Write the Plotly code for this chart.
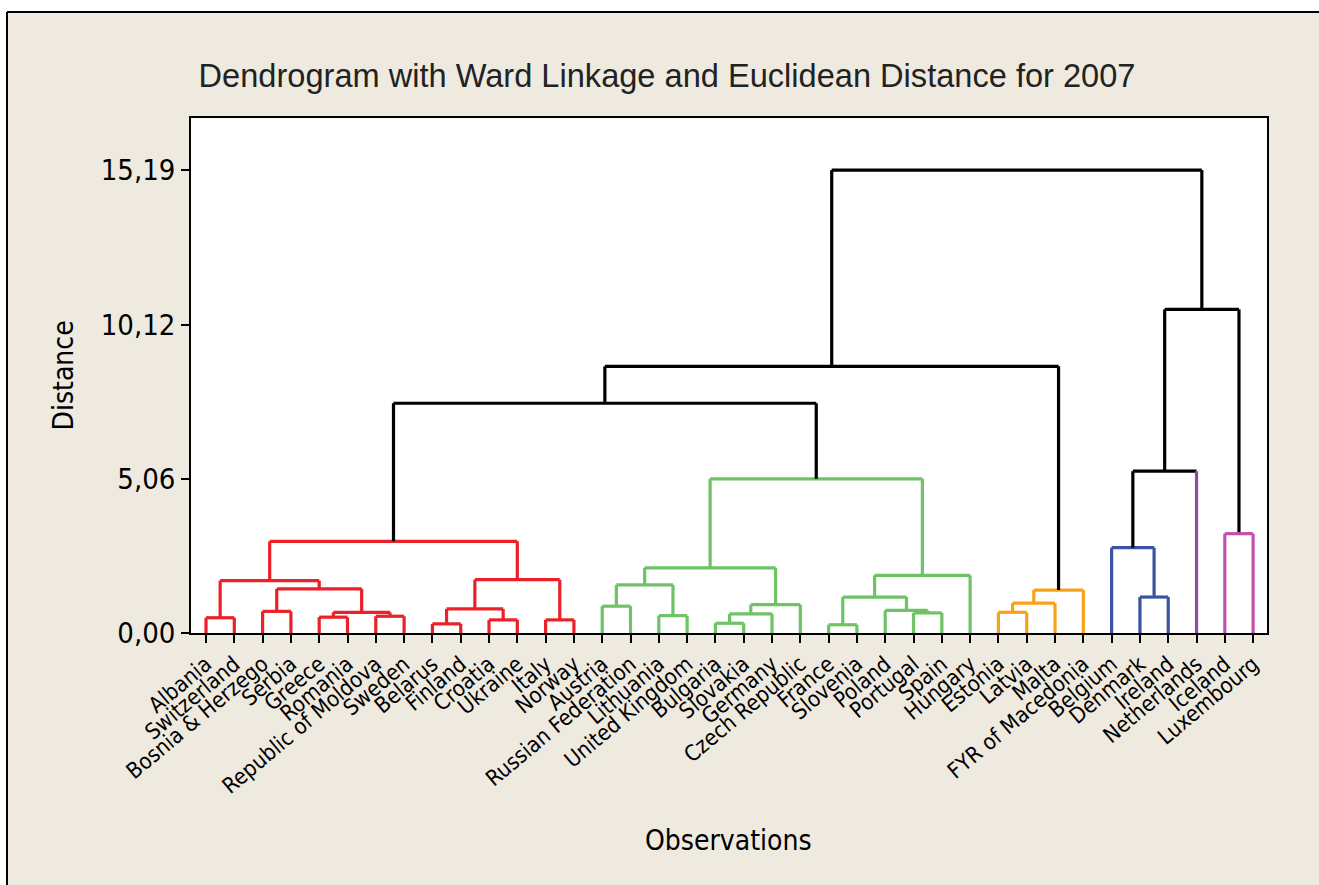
import plotly.graph_objects as go

# ---------------- data ----------------
leaves = ["Albania", "Switzerland", "Bosnia & Herzego", "Serbia", "Greece", "Romania",
          "Republic of Moldova", "Sweden", "Belarus", "Finland", "Croatia", "Ukraine",
          "Italy", "Norway", "Austria", "Russian Federation", "Lithuania", "United Kingdom",
          "Bulgaria", "Slovakia", "Germany", "Czech Republic", "France", "Slovenia",
          "Poland", "Portugal", "Spain", "Hungary", "Estonia", "Latvia", "Malta",
          "FYR of Macedonia", "Belgium", "Denmark", "Ireland", "Netherlands", "Iceland",
          "Luxembourg"]

# cluster membership of each leaf (6 final clusters)
leaf_cluster = [0] * 14 + [1] * 14 + [2] * 4 + [3] * 3 + [4] + [5] * 2

# linkage: node ids 0..37 are leaves, merge k creates node 38+k
merge_left = [0, 2, 4, 6, 40, 39, 38, 8, 10, 45, 12, 47, 44,
              14, 16, 51, 18, 54, 55, 53, 22, 25, 24, 58, 61, 57,
              28, 64, 65,
              33, 32, 68, 36, 69,
              50, 72, 73]
merge_right = [1, 3, 5, 7, 41, 42, 43, 9, 11, 46, 13, 48, 49,
               15, 17, 52, 19, 20, 21, 56, 23, 26, 59, 60, 27, 62,
               29, 30, 31,
               34, 67, 35, 37, 70,
               63, 66, 71]
merge_height = [0.50, 0.71, 0.52, 0.55, 0.68, 1.45, 1.72, 0.30, 0.43, 0.79, 0.43, 1.75, 3.01,
                0.88, 0.57, 1.58, 0.32, 0.63, 0.93, 2.14, 0.27, 0.66, 0.74, 1.18, 1.89, 5.06,
                0.68, 0.98, 1.41,
                1.18, 2.80, 5.31, 3.26, 10.62,
                7.54, 8.75, 15.19]

y_tick_values = [0.00, 5.06, 10.12, 15.19]
y_tick_labels = ["0,00", "5,06", "10,12", "15,19"]

# ---------------- style ----------------
cluster_colors = ["#EC2028", "#6DC366", "#F8A21C", "#3A53A4", "#8C4CA2", "#C151A9"]
link_black = "#000000"
LW = 3.2
FONT = "DejaVu Sans Condensed, DejaVu Sans, sans-serif"

W, H = 1319, 885
ML, MR, MT, MB = 191, 52, 118, 252

# ---------------- build dendrogram segments ----------------
n = len(leaves)
node_x = list(range(n))
node_h = [0.0] * n
node_cl = list(leaf_cluster)
segs = {}


def add(color, xs, ys):
    d = segs.setdefault(color, ([], []))
    d[0].extend(xs + [None])
    d[1].extend(ys + [None])


for a, b, h in zip(merge_left, merge_right, merge_height):
    xa, xb = node_x[a], node_x[b]
    cl = node_cl[a] if node_cl[a] == node_cl[b] else -1
    mcol = cluster_colors[cl] if cl >= 0 else link_black
    ca = cluster_colors[node_cl[a]] if a < n else mcol
    cb = cluster_colors[node_cl[b]] if b < n else mcol
    add(ca, [xa, xa], [node_h[a], h])
    add(mcol, [xa, xb], [h, h])
    add(cb, [xb, xb], [node_h[b], h])
    node_x.append((xa + xb) / 2)
    node_h.append(h)
    node_cl.append(cl)

fig = go.Figure()
for col, (xs, ys) in segs.items():
    fig.add_trace(go.Scatter(x=xs, y=ys, mode="lines",
                             line=dict(color=col, width=LW),
                             hoverinfo="skip", showlegend=False))


def px_x(p):
    return (p - ML) / (W - ML - MR)


def px_y(p):
    return (H - MB - p) / (H - MT - MB)


fig.update_layout(
    width=W, height=H,
    margin=dict(l=ML, r=MR, t=MT, b=MB, pad=0),
    paper_bgcolor="#EEEAE0",
    plot_bgcolor="#FFFFFF",
    showlegend=False,
    title=dict(text="Dendrogram with Ward Linkage and Euclidean Distance for 2007",
               font=dict(family="Liberation Sans, Arial, sans-serif", size=32.6, color="#222222"),
               x=667 / W, xanchor="center", xref="container",
               y=1 - 76 / H, yanchor="middle", yref="container"),
    xaxis=dict(range=[-0.53, 37.49], tickmode="array",
               tickvals=list(range(n)), ticktext=leaves, tickangle=-40,
               tickfont=dict(family=FONT, size=22, color="#000000"),
               ticks="outside", ticklen=8, tickwidth=1.5, tickcolor="#000000",
               showline=True, linecolor="#000000", linewidth=1.5, mirror=True,
               showgrid=False, zeroline=False, automargin=False, fixedrange=True),
    yaxis=dict(range=[0, 16.9], tickmode="array",
               tickvals=y_tick_values, ticktext=y_tick_labels,
               tickfont=dict(family=FONT, size=29, color="#000000"),
               ticks="outside", ticklen=8, tickwidth=1.5, tickcolor="#000000",
               showline=True, linecolor="#000000", linewidth=1.5, mirror=True,
               showgrid=False, zeroline=False, automargin=False, fixedrange=True),
    annotations=[
        dict(text="Distance", textangle=-90, x=px_x(63), y=0.5, xref="paper", yref="paper",
             showarrow=False, xanchor="center", yanchor="middle",
             font=dict(family=FONT, size=28, color="#000000")),
        dict(text="Observations", x=px_x(728), y=px_y(840), xref="paper", yref="paper",
             showarrow=False, xanchor="center", yanchor="middle",
             font=dict(family=FONT, size=28, color="#000000")),
    ],
    shapes=[
        dict(type="rect", xref="paper", yref="paper", layer="above",
             x0=px_x(0), x1=px_x(7), y0=px_y(H), y1=px_y(0),
             fillcolor="#FFFFFF", line=dict(width=0)),
        dict(type="rect", xref="paper", yref="paper", layer="above",
             x0=px_x(0), x1=px_x(W), y0=px_y(12), y1=px_y(0),
             fillcolor="#FFFFFF", line=dict(width=0)),
        dict(type="line", xref="paper", yref="paper", layer="above",
             x0=px_x(7), x1=px_x(7), y0=px_y(H), y1=px_y(12),
             line=dict(color="#000000", width=2)),
        dict(type="line", xref="paper", yref="paper", layer="above",
             x0=px_x(7), x1=px_x(W), y0=px_y(12), y1=px_y(12),
             line=dict(color="#000000", width=2)),
    ],
)

fig.write_html("out.html", config={"displayModeBar": False},
               post_script="document.body.style.margin='0';document.body.style.overflow='hidden';")
